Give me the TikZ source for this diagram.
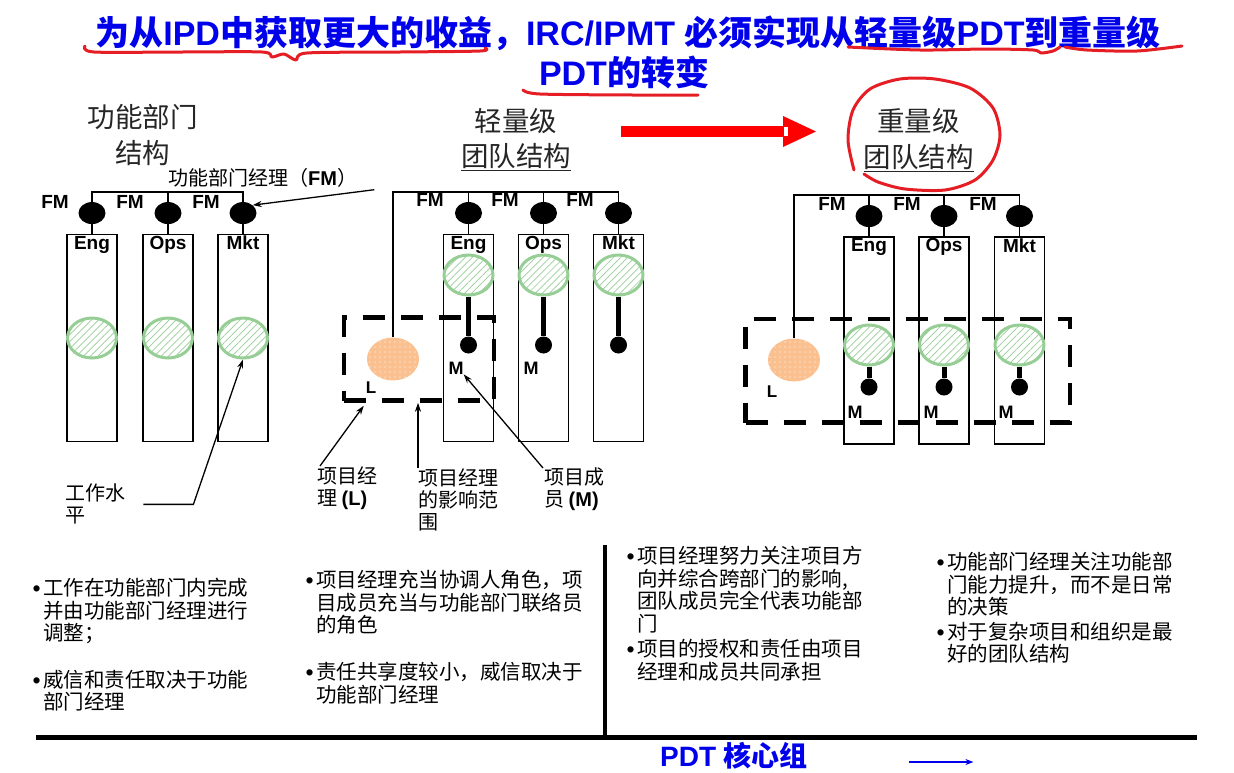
\documentclass[tikz,border=0pt]{standalone}
\usepackage{fontspec}
\setmainfont{Liberation Sans}
\newfontfamily\cjk{Noto Sans CJK SC}
\usetikzlibrary{positioning, arrows.meta, shapes.geometric, patterns.meta}

\definecolor{titleblue}{RGB}{0,0,235}
\definecolor{markred}{RGB}{228,30,36}
\definecolor{arrowred}{RGB}{255,0,0}
\definecolor{workgreen}{RGB}{150,206,150}
\definecolor{leadorange}{RGB}{250,192,143}

\newcommand{\zh}[1]{{\cjk #1}}
\newcommand{\itemdot}{\llap{\smash{\raisebox{-1pt}{\normalfont\fontsize{23}{23}\selectfont\textbullet}}\hspace{2.5pt}}}

\begin{document}
\begin{tikzpicture}[
    x=1pt, y=-1pt,
    >=Stealth,
    dept/.style={rectangle, draw, line width=1.5pt, minimum width=50pt,
                 minimum height=207pt, inner sep=0pt},
    fmdot/.style={ellipse, fill=black, minimum width=27pt, minimum height=22pt, inner sep=0pt},
    mdot/.style={circle, fill=black, minimum size=17pt, inner sep=0pt},
    work/.style={ellipse, draw=workgreen, line width=3pt, fill=white,
                 minimum width=49pt, minimum height=40pt, inner sep=0pt,
                 postaction={pattern={Lines[angle=45, distance=5pt, line width=0.7pt]},
                             pattern color=workgreen}},
    lead/.style={ellipse, fill=leadorange, minimum width=52pt, minimum height=43pt, inner sep=0pt,
                 postaction={pattern={Dots[distance=5pt, radius=0.7pt]}, pattern color=white}},
    teamscope/.style={rectangle, draw, line width=4.5pt, dash pattern=on 22pt off 16pt, inner sep=0pt},
    deptname/.style={font=\bfseries\fontsize{19}{19}\selectfont, inner sep=1pt},
    fmname/.style={font=\bfseries\fontsize{19}{19}\selectfont, inner sep=0pt},
    role/.style={font=\bfseries\fontsize{18}{18}\selectfont, inner sep=0pt},
    header/.style={font=\cjk\fontsize{27.5}{35.5}\selectfont, align=center, text=black!85},
    callout/.style={font=\cjk\fontsize{20}{22}\selectfont, align=left, inner sep=0pt, anchor=north west},
    note/.style={font=\cjk\fontsize{20.5}{22.5}\selectfont, align=left, inner sep=0pt, anchor=north west},
    pointer/.style={-{Stealth[length=9pt, width=6pt]}, line width=1.3pt},
    bar/.style={line width=1.8pt},
    stem/.style={line width=5pt},
    marker/.style={draw=markred, line width=3pt, line cap=round, line join=round}
]
  \useasboundingbox (0,0) rectangle (1234,772);

  % --- Title ---
  \node[font=\bfseries\fontsize{34}{40}\selectfont, text=titleblue] (title1) at (628,33)
    {\zh{为从}IPD\zh{中获取更大的收益，}IRC/IPMT \zh{必须实现从轻量级}PDT\zh{到重量级}};
  \node[font=\bfseries\fontsize{34}{40}\selectfont, text=titleblue] (title2) at (624,72)
    {PDT\zh{的转变}};

  % hand-drawn marks
  \draw[marker] plot[smooth] coordinates {(85,46) (94,52) (180,52) (262,52) (272,57) (284,54)
    (296,60) (307,53) (400,52) (480,51) (485,48)};
  \draw[marker] plot[smooth] coordinates {(848,47) (920,50) (987,49) (1033,50) (1041,53)
    (1053,51) (1060,47)};
  \draw[marker] plot[smooth] coordinates {(1065,47) (1087,50) (1137,51) (1182,46)};
  \draw[marker] plot[smooth] coordinates {(523,90) (540,94) (633,95) (698,95)};
  \draw[marker] plot[smooth] coordinates {(854,170) (848,140) (853,110) (870,89) (900,79)
    (935,79) (970,88) (993,108) (1000,135) (993,160) (975,180) (945,190) (905,189)
    (878,182) (864,174)};

  % big red arrow
  \fill[arrowred] (621,126) rectangle (783,137);
  \fill[arrowred] (783,116) -- (816,131.5) -- (783,147) -- cycle;
  \fill[white] (784,127) rectangle (788,136);

  % --- Functional structure (left) ---
  \node[header] (headF) at (142.5,135) {功能部门\\结构};
  \node[dept] (boxL1) at (92,338) {};
  \node[dept] (boxL2) at (168,338) {};
  \node[dept] (boxL3) at (243,338) {};
  \node[fmdot, above=9.5pt of boxL1] (fmL1) {};
  \node[fmdot, above=9.5pt of boxL2] (fmL2) {};
  \node[fmdot, above=9.5pt of boxL3] (fmL3) {};
  \node[deptname, below=1pt of boxL1.north] (engL) {Eng};
  \node[deptname, below=1pt of boxL2.north] (opsL) {Ops};
  \node[deptname, below=1pt of boxL3.north] (mktL) {Mkt};
  \node[work] (wL1) at (92,338) {};
  \node[work] (wL2) at (168,338) {};
  \node[work] (wL3) at (243,338) {};
  \node[fmname] (fmnL1) at (55,202) {FM};
  \node[fmname] (fmnL2) at (130,202) {FM};
  \node[fmname] (fmnL3) at (206,202) {FM};

  \coordinate (barL) at (0,192);
  \draw[bar] (fmL1) -- (fmL1 |- barL) -- (fmL3 |- barL) -- (fmL3);
  \draw[bar] (fmL2) -- (fmL2 |- barL);
  \draw[bar] (fmL1) -- (boxL1);
  \draw[bar] (fmL2) -- (boxL2);
  \draw[bar] (fmL3) -- (boxL3);

  \node[callout] (lblFM) at (168,168) {功能部门经理（{\normalfont\bfseries FM}）};
  \draw[pointer] ([shift={(17pt,-12pt)}]lblFM.east) -- (fmL3.north east);
  \node[callout] (lblWork) at (65,484) {工作水\\平};
  \draw[pointer] ([xshift=18pt]lblWork.east) -- ++(50pt,0pt) -- (wL3.south);

  % --- Lightweight team (middle) ---
  \node[header] (headL) at (516,139.5) {轻量级\\\underline{团队结构}};
  \node[dept] (boxM1) at (468.5,338) {};
  \node[dept] (boxM2) at (543.5,338) {};
  \node[dept] (boxM3) at (618.5,338) {};
  \node[teamscope, minimum width=150pt, minimum height=83pt] (teamM) at (419,359) {};
  \node[fmdot, above=9.5pt of boxM1] (fmM1) {};
  \node[fmdot, above=9.5pt of boxM2] (fmM2) {};
  \node[fmdot, above=9.5pt of boxM3] (fmM3) {};
  \node[deptname, below=1pt of boxM1.north] (engM) {Eng};
  \node[deptname, below=1pt of boxM2.north] (opsM) {Ops};
  \node[deptname, below=1pt of boxM3.north] (mktM) {Mkt};
  \node[work] (wM1) at (468.5,275) {};
  \node[work] (wM2) at (543.5,275) {};
  \node[work] (wM3) at (618.5,275) {};
  \node[mdot] (mdM1) at (468.5,345) {};
  \node[mdot] (mdM2) at (543.5,345) {};
  \node[mdot] (mdM3) at (618.5,345) {};
  \node[lead] (leadM) at (393,359) {};
  \node[fmname] (fmnM1) at (430,200) {FM};
  \node[fmname] (fmnM2) at (505,200) {FM};
  \node[fmname] (fmnM3) at (580,200) {FM};
  \node[role] (mM1) at (456,368) {M};
  \node[role] (mM2) at (531,368) {M};
  \node[role, font=\bfseries\fontsize{17}{17}\selectfont] (lM) at (371,388) {L};

  \coordinate (barM) at (0,192);
  \draw[bar] (leadM) -- (leadM |- barM) -- (fmM3 |- barM) -- (fmM3);
  \draw[bar] (fmM1) -- (fmM1 |- barM);
  \draw[bar] (fmM2) -- (fmM2 |- barM);
  \draw[bar] (fmM1) -- (boxM1);
  \draw[bar] (fmM2) -- (boxM2);
  \draw[bar] (fmM3) -- (boxM3);
  \draw[stem] (wM1) -- (mdM1);
  \draw[stem] (wM2) -- (mdM2);
  \draw[stem] (wM3) -- (mdM3);

  \node[callout] (lblLead) at (317,466) {项目经\\理 {\normalfont\bfseries (L)}};
  \node[callout] (lblRange) at (418,468) {项目经理\\的影响范\\围};
  \node[callout] (lblMember) at (544,468) {项目成\\员 {\normalfont\bfseries (M)}};
  \draw[pointer] ([xshift=3pt]lblLead.north west) -- ([shift={(22pt,-3pt)}]teamM.south west);
  \draw[pointer] (lblRange.north west) -- (lblRange.north west |- teamM.south);
  \draw[pointer] ([xshift=-1pt]lblMember.north west) -- (mM1.south east);

  % --- Heavyweight team (right) ---
  \node[header] (headH) at (918.5,140) {重量级\\\underline{团队结构}};
  \node[dept] (boxH1) at (869,340.5) {};
  \node[dept] (boxH2) at (944,340.5) {};
  \node[dept] (boxH3) at (1019.5,340.5) {};
  \node[teamscope, minimum width=324.5pt, minimum height=103.5pt] (teamH) at (907.75,370.75) {};
  \node[fmdot, above=9pt of boxH1] (fmH1) {};
  \node[fmdot, above=9pt of boxH2] (fmH2) {};
  \node[fmdot, above=9pt of boxH3] (fmH3) {};
  \node[deptname, below=1pt of boxH1.north] (engH) {Eng};
  \node[deptname, below=1pt of boxH2.north] (opsH) {Ops};
  \node[deptname, below=1pt of boxH3.north] (mktH) {Mkt};
  \node[work] (wH1) at (869,345) {};
  \node[work] (wH2) at (944,345) {};
  \node[work] (wH3) at (1019.5,345) {};
  \node[mdot] (mdH1) at (869,387) {};
  \node[mdot] (mdH2) at (944,387) {};
  \node[mdot] (mdH3) at (1019.5,387) {};
  \node[lead] (leadH) at (794,360) {};
  \node[fmname] (fmnH1) at (832,204) {FM};
  \node[fmname] (fmnH2) at (907,204) {FM};
  \node[fmname] (fmnH3) at (983,204) {FM};
  \node[role] (mH1) at (855,412) {M};
  \node[role] (mH2) at (931,412) {M};
  \node[role] (mH3) at (1006,412) {M};
  \node[role, font=\bfseries\fontsize{17}{17}\selectfont] (lH) at (772,392) {L};

  \coordinate (barH) at (0,195);
  \draw[bar] (leadH) -- (leadH |- barH) -- (fmH3 |- barH) -- (fmH3);
  \draw[bar] (fmH1) -- (fmH1 |- barH);
  \draw[bar] (fmH2) -- (fmH2 |- barH);
  \draw[bar] (fmH1) -- (boxH1);
  \draw[bar] (fmH2) -- (boxH2);
  \draw[bar] (fmH3) -- (boxH3);
  \draw[stem] (wH1) -- (mdH1);
  \draw[stem] (wH2) -- (mdH2);
  \draw[stem] (wH3) -- (mdH3);

  % --- Notes ---
  \node[note] (noteF1) at (43,578) {\itemdot 工作在功能部门内完成\\并由功能部门经理进行\\调整；};
  \node[note] (noteF2) at (43,670) {\itemdot 威信和责任取决于功能\\部门经理};
  \node[note] (noteL1) at (316,570) {\itemdot 项目经理充当协调人角色，项\\目成员充当与功能部门联络员\\的角色};
  \node[note] (noteL2) at (316,662) {\itemdot 责任共享度较小，威信取决于\\功能部门经理};
  \node[note] (noteH1) at (637,546) {\itemdot 项目经理努力关注项目方\\向并综合跨部门的影响,\\团队成员完全代表功能部\\门};
  \node[note] (noteH2) at (637,639) {\itemdot 项目的授权和责任由项目\\经理和成员共同承担};
  \node[note] (noteH3) at (947,552) {\itemdot 功能部门经理关注功能部\\门能力提升，而不是日常\\的决策};
  \node[note] (noteH4) at (947,622) {\itemdot 对于复杂项目和组织是最\\好的团队结构};

  \draw[line width=5pt] (36,737) -- (1197,737);
  \draw[line width=4.5pt] (605,545) -- (605,737);

  \node[font=\bfseries\fontsize{28}{28}\selectfont, text=titleblue] (core) at (734,756) {PDT \zh{核心组}};
  \draw[-{Stealth[length=8pt]}, titleblue, line width=1.3pt]
    ([shift={(98pt,-6pt)}]core.east) -- ++(64pt,0pt);

\end{tikzpicture}
\end{document}
